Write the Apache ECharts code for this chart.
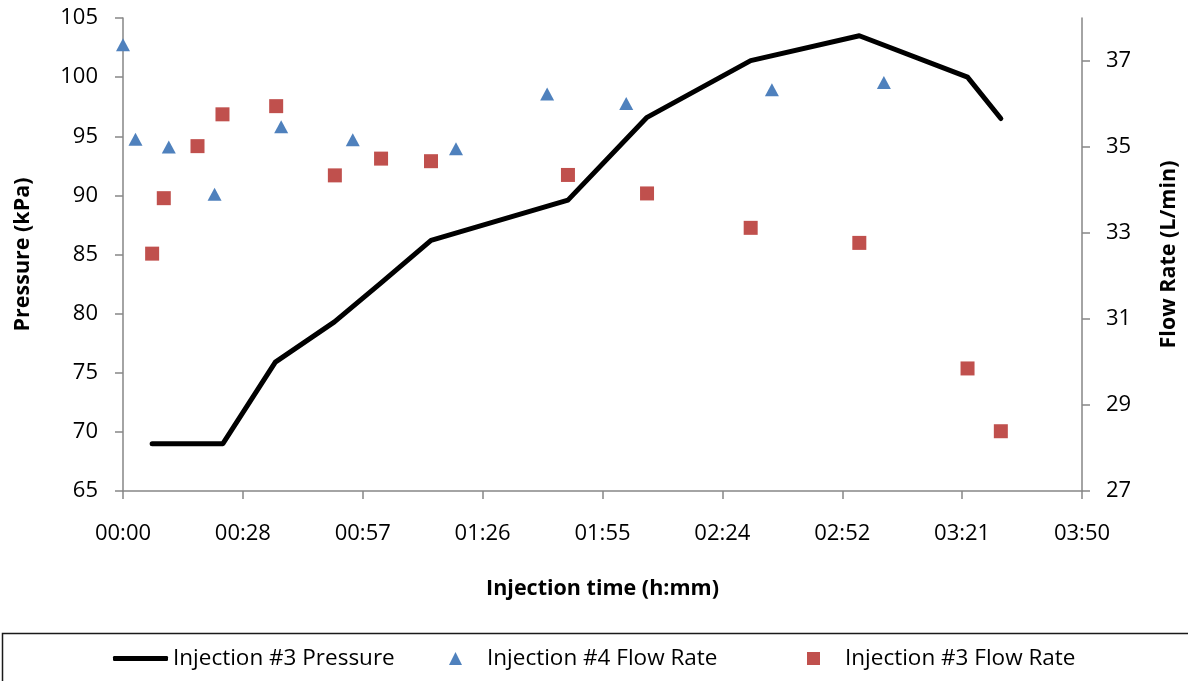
<!DOCTYPE html>
<html>
<head>
<meta charset="utf-8">
<script src="https://cdn.jsdelivr.net/npm/echarts@6/dist/echarts.min.js"></script>
<style>
  html, body { margin: 0; padding: 0; background: #fff; }
  #chart { width: 1188px; height: 681px; }
</style>
</head>
<body>
<div id="chart"></div>
<script>
// Injection time in minutes; the axis runs 0–230.4 min (0.16 day) in 28.8 min steps
const xTicks = { min: 0, max: 230.4, step: 28.8 };

// Injection #3 pressure (kPa)
const pressureTime = [7.0, 24.0, 36.6, 50.8, 62.0, 74.0, 106.9, 125.9, 150.8, 176.9, 202.9, 210.9];
const pressureKPa  = [69.0, 69.0, 75.9, 79.3, 82.6, 86.2, 89.6, 96.6, 101.4, 103.5, 100.0, 96.5];

// Injection #4 flow rate (L/min)
const flow4Time = [0, 3.0, 11.0, 22.0, 38.0, 55.2, 80.0, 101.9, 120.9, 155.9, 182.8];
const flow4Rate = [37.38, 35.18, 35.0, 33.9, 35.47, 35.17, 34.96, 36.23, 36.01, 36.33, 36.5];

// Injection #3 flow rate (L/min)
const flow3Time = [7.0, 9.8, 17.9, 23.9, 36.8, 50.9, 62.0, 74.0, 106.9, 125.9, 150.8, 176.9, 202.9, 210.9];
const flow3Rate = [32.52, 33.81, 35.02, 35.76, 35.95, 34.34, 34.73, 34.67, 34.35, 33.92, 33.12, 32.77, 29.85, 28.39];

const seriesNames = ['Injection #3 Pressure', 'Injection #4 Flow Rate', 'Injection #3 Flow Rate'];

const zip = (xs, ys) => xs.map((x, i) => [x, ys[i]]);
const pad = n => String(n).padStart(2, '0');
const fmtTime = v => {
  const m = Math.floor(v + 1e-6);
  return pad(Math.floor(m / 60)) + ':' + pad(m % 60);
};

const FONT = '"Open Sans", "Noto Sans", sans-serif';
const AXIS_GREY = '#868686';

const chart = echarts.init(document.getElementById('chart'), null, { renderer: 'canvas' });

const legendText = { fontFamily: FONT, fontSize: 22.5, color: '#000' };
const titleText = { fontFamily: FONT, fontSize: 21.5, fontWeight: 'bold', color: '#000' };
const tickText = { fontFamily: FONT, fontSize: 22, color: '#000' };

chart.setOption({
  backgroundColor: '#fff',
  animation: false,
  grid: { left: 123, right: 99, top: 18, bottom: 190, containLabel: false },
  xAxis: {
    type: 'value',
    min: xTicks.min, max: xTicks.max, interval: xTicks.step,
    name: 'Injection time (h:mm)',
    nameLocation: 'middle',
    nameGap: 87,
    nameTextStyle: titleText,
    axisLine: { show: true, lineStyle: { color: AXIS_GREY, width: 1.5 } },
    axisTick: { show: true, inside: false, length: 8, lineStyle: { color: AXIS_GREY, width: 1.5 } },
    axisLabel: Object.assign({ formatter: fmtTime, margin: 32 }, tickText),
    splitLine: { show: false }
  },
  yAxis: [
    {
      type: 'value', position: 'left',
      min: 65, max: 105, interval: 5,
      name: 'Pressure (kPa)',
      nameLocation: 'middle', nameRotate: 90, nameGap: 89,
      nameTextStyle: titleText,
      axisLine: { show: true, lineStyle: { color: AXIS_GREY, width: 1.5 } },
      axisTick: { show: true, inside: false, length: 8, lineStyle: { color: AXIS_GREY, width: 1.5 } },
      axisLabel: Object.assign({ margin: 25 }, tickText),
      splitLine: { show: false }
    },
    {
      type: 'value', position: 'right',
      min: 27, max: 38, interval: 2,
      name: 'Flow Rate (L/min)',
      nameLocation: 'middle', nameRotate: 90, nameGap: 76,
      nameTextStyle: titleText,
      axisLine: { show: true, lineStyle: { color: AXIS_GREY, width: 1.5 } },
      axisTick: { show: true, inside: false, length: 8, lineStyle: { color: AXIS_GREY, width: 1.5 } },
      axisLabel: Object.assign({ margin: 24, showMaxLabel: false,
                   formatter: v => (v === 38 ? '' : String(v)) }, tickText),
      splitLine: { show: false }
    }
  ],
  legend: [
    {
      data: [{ name: seriesNames[0], icon: 'roundRect' }],
      left: 113, top: 647, padding: 0, itemWidth: 55, itemHeight: 5, itemGap: 0,
      textStyle: legendText
    },
    {
      data: [{ name: seriesNames[1], icon: 'triangle' }],
      left: 449, top: 647, padding: 0, itemWidth: 13, itemHeight: 13, itemGap: 0,
      textStyle: Object.assign({ padding: [0, 0, 0, 20] }, legendText)
    },
    {
      data: [{ name: seriesNames[2], icon: 'rect' }],
      left: 807, top: 647, padding: 0, itemWidth: 13, itemHeight: 13, itemGap: 0,
      textStyle: Object.assign({ padding: [0, 0, 0, 20] }, legendText)
    }
  ],
  graphic: [
    {
      type: 'rect', silent: true,
      shape: { x: 2.5, y: 633.5, width: 1300, height: 100 },
      style: { fill: 'none', stroke: '#1a1a1a', lineWidth: 1.5 }
    }
  ],
  series: [
    {
      name: seriesNames[0], type: 'line', yAxisIndex: 0,
      data: zip(pressureTime, pressureKPa),
      showSymbol: false, symbol: 'none',
      lineStyle: { color: '#000', width: 5, cap: 'round', join: 'round' },
      itemStyle: { color: '#000' },
      z: 3
    },
    {
      name: seriesNames[1], type: 'scatter', yAxisIndex: 1,
      data: zip(flow4Time, flow4Rate),
      symbol: 'triangle', symbolSize: [14, 13],
      itemStyle: { color: '#4F81BD', opacity: 1 },
      clip: false, z: 2
    },
    {
      name: seriesNames[2], type: 'scatter', yAxisIndex: 1,
      data: zip(flow3Time, flow3Rate),
      symbol: 'rect', symbolSize: 14,
      itemStyle: { color: '#C0504D', opacity: 1 },
      clip: false, z: 2
    }
  ]
});
</script>
</body>
</html>
